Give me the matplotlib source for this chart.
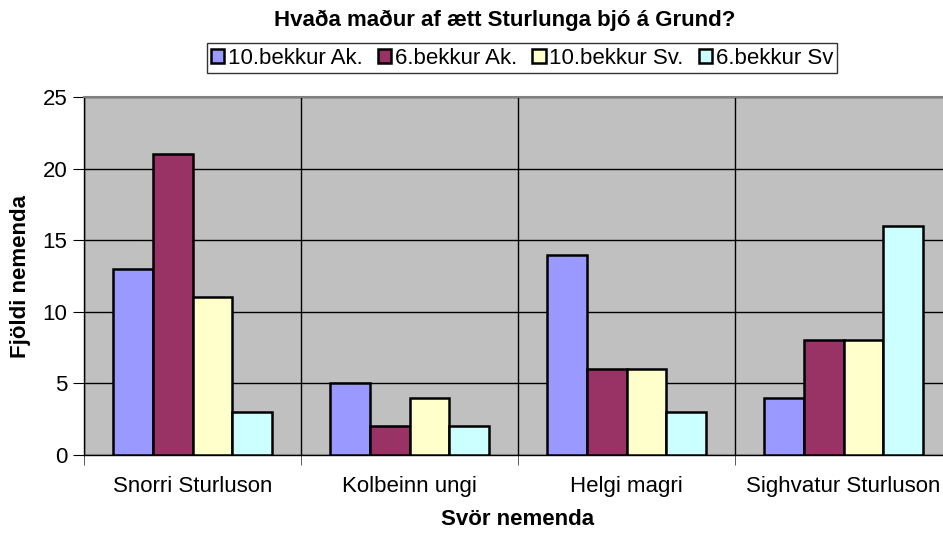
import matplotlib
matplotlib.use("Agg")
import matplotlib.pyplot as plt
import numpy as np

categories = ["Snorri Sturluson", "Kolbeinn ungi", "Helgi magri", "Sighvatur Sturluson"]
series_names = ["10.bekkur Ak.", "6.bekkur Ak.", "10.bekkur Sv.", "6.bekkur Sv"]
s_10ak = [13, 5, 14, 4]
s_6ak = [21, 2, 6, 8]
s_10sv = [11, 4, 6, 8]
s_6sv = [3, 2, 3, 16]
colors = ["#9999FF", "#993366", "#FFFFCC", "#CCFFFF"]

plt.rcParams['font.family'] = ['Liberation Sans', 'DejaVu Sans']

fig = plt.figure(figsize=(9.43, 5.33), dpi=100)
ax = fig.add_axes([84/943, (533-455)/533, 868/943, 358/533])
ax.set_facecolor("#C0C0C0")

x = np.arange(len(categories))
w = 0.183
data = [s_10ak, s_6ak, s_10sv, s_6sv]
handles = []
for i, (vals, name, c) in enumerate(zip(data, series_names, colors)):
    b = ax.bar(x + (i - 1.5) * w, vals, w, color=c, edgecolor="black",
               linewidth=1.8, label=name, zorder=3)
    handles.append(b)

ax.set_xlim(-0.5, 3.5)
ax.set_ylim(0, 25)
ax.set_yticks([0, 5, 10, 15, 20, 25])
ax.yaxis.grid(True, color="black", linewidth=1, zorder=1)
ax.set_axisbelow(True)
ax.set_xticks(x)
ax.set_xticklabels(categories, fontsize=16)
ax.tick_params(axis='x', which='major', length=0, pad=15)
ax.set_xticks([-0.5, 0.5, 1.5, 2.5, 3.5], minor=True)
ax.tick_params(axis='x', which='minor', length=7, direction='out', color='#404040')
ax.xaxis.grid(True, which='minor', color='black', linewidth=1)
ax.tick_params(axis='y', length=8, direction='out', labelsize=16, pad=4)

for s in ['left', 'bottom']:
    ax.spines[s].set_color('black')
    ax.spines[s].set_linewidth(1)
for s in ['top', 'right']:
    ax.spines[s].set_color('#808080')
    ax.spines[s].set_linewidth(1.5)

ax.set_ylabel("Fjöldi nemenda", fontsize=16, fontweight='bold', labelpad=8)
ax.set_xlabel("Svör nemenda", fontsize=16, fontweight='bold', labelpad=9)

fig.text(505/943, 1 - 20/533, "Hvaða maður af ætt Sturlunga bjó á Grund?",
         ha='center', va='center', fontsize=16, fontweight='bold')

leg = fig.legend(handles=handles, labels=series_names, loc='center',
                 bbox_to_anchor=(522/943, 1 - 58/533), ncol=4, fontsize=16,
                 frameon=True, fancybox=False, edgecolor='black',
                 handlelength=0.6, handleheight=0.6, handletextpad=0.15,
                 columnspacing=0.7, borderpad=0.2, borderaxespad=0)
leg.get_frame().set_linewidth(1)

fig.savefig("out.png", dpi=100)
